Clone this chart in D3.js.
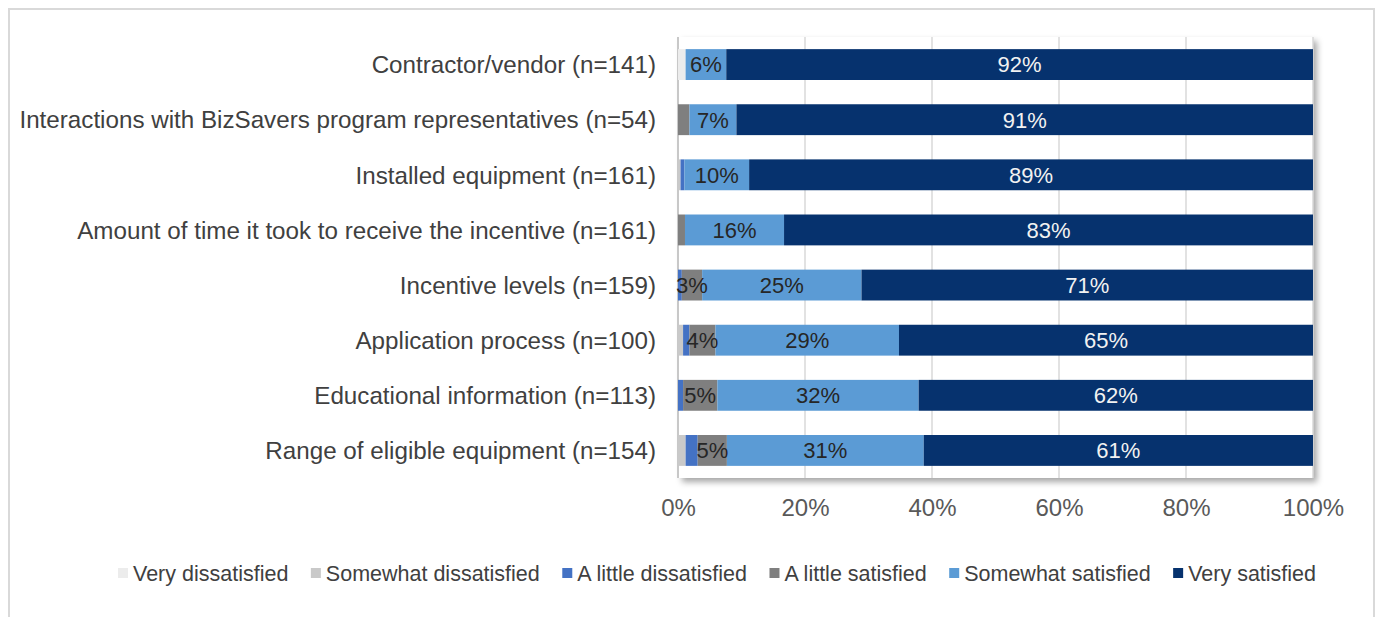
<!DOCTYPE html>
<html>
<head>
<meta charset="utf-8">
<script src="https://cdn.jsdelivr.net/npm/d3@7"></script>
<style>
  body { margin: 0; background: #fff; }
  svg text { font-family: "Liberation Sans", Arial, sans-serif; }
</style>
</head>
<body>
<svg id="chart" width="1380" height="617"></svg>
<script>
var categories = [
    "Contractor/vendor (n=141)",
    "Interactions with BizSavers program representatives (n=54)",
    "Installed equipment (n=161)",
    "Amount of time it took to receive the incentive (n=161)",
    "Incentive levels (n=159)",
    "Application process (n=100)",
    "Educational information (n=113)",
    "Range of eligible equipment (n=154)"
];
var seriesNames = ["Very dissatisfied", "Somewhat dissatisfied", "A little dissatisfied",
    "A little satisfied", "Somewhat satisfied", "Very satisfied"];
// percent of respondents, one value per category
var veryDissatisfied     = [1.2, 0, 0, 0, 0, 0, 0, 0];
var somewhatDissatisfied = [0, 0, 0.4, 0, 0, 0.8, 0, 1.2];
var littleDissatisfied   = [0, 0, 0.6, 0, 0.6, 1.0, 0.8, 1.9];
var littleSatisfied      = [0, 1.8, 0, 1.1, 3.2, 4.1, 5.4, 4.6];
var somewhatSatisfied    = [6.4, 7.4, 10.2, 15.6, 25.1, 28.9, 31.7, 31.0];
var verySatisfied        = [92.4, 90.8, 88.8, 83.3, 71.1, 65.2, 62.1, 61.3];
var xTicks = [0, 20, 40, 60, 80, 100];

var colors = ["#ececec", "#c9c9c9", "#4472c4", "#7f7f7f", "#5b9bd5", "#06326e"];
var labelColors = ["#262626", "#262626", "#ffffff", "#262626", "#262626", "#f2f2f2"];

var svg = d3.select("#chart");

// outer chart border
svg.append("rect")
    .attr("x", 9).attr("y", 9)
    .attr("width", 1365).attr("height", 630)
    .attr("fill", "#fff")
    .attr("stroke", "#d9d9d9")
    .attr("stroke-width", 2);

var defs = svg.append("defs");
defs.append("filter").attr("id", "shadow")
    .attr("x", "-5%").attr("y", "-5%").attr("width", "110%").attr("height", "115%")
    .append("feDropShadow")
    .attr("dx", 4).attr("dy", 4)
    .attr("stdDeviation", 3)
    .attr("flood-color", "#000")
    .attr("flood-opacity", 0.35);

var x = d3.scaleLinear().domain([0, 100]).range([678, 1313]);
var y = d3.scaleBand().domain(categories).range([37, 478])
    .paddingInner(0.44).paddingOuter(0.22);

// plot area
svg.append("rect")
    .attr("x", x(0)).attr("y", 37)
    .attr("width", x(100) - x(0)).attr("height", 441)
    .attr("fill", "#fff")
    .attr("filter", "url(#shadow)");

svg.append("g").selectAll("line")
    .data(xTicks.slice(1))
    .join("line")
    .attr("x1", function(d){ return x(d); })
    .attr("x2", function(d){ return x(d); })
    .attr("y1", 37).attr("y2", 478)
    .attr("stroke", "#d9d9d9")
    .attr("stroke-width", 1.5);

svg.append("line")
    .attr("x1", x(0)).attr("x2", x(0))
    .attr("y1", 37).attr("y2", 478)
    .attr("stroke", "#c8c8c8")
    .attr("stroke-width", 2);

// stack the series
var table = categories.map(function(c, i){
    return {cat: c, s0: veryDissatisfied[i], s1: somewhatDissatisfied[i], s2: littleDissatisfied[i],
        s3: littleSatisfied[i], s4: somewhatSatisfied[i], s5: verySatisfied[i]};
});
var keys = ["s0", "s1", "s2", "s3", "s4", "s5"];
var stacked = d3.stack().keys(keys)(table);

var layers = svg.append("g").selectAll("g")
    .data(stacked)
    .join("g")
    .attr("fill", function(d, i){ return colors[i]; });

layers.selectAll("rect")
    .data(function(d){ return d; })
    .join("rect")
    .attr("x", function(d){ return x(d[0]); })
    .attr("y", function(d){ return y(d.data.cat); })
    .attr("width", function(d){ return x(d[1]) - x(d[0]); })
    .attr("height", y.bandwidth());

// data labels
stacked.forEach(function(layer, i){
    svg.append("g").selectAll("text")
        .data(layer.filter(function(d){ return d[1] - d[0] >= 2.5; }))
        .join("text")
        .attr("x", function(d){ return (x(d[0]) + x(d[1])) / 2; })
        .attr("y", function(d){ return y(d.data.cat) + y.bandwidth() / 2; })
        .attr("dy", "0.36em")
        .attr("text-anchor", "middle")
        .attr("fill", labelColors[i])
        .style("font-size", "22px")
        .text(function(d){ return Math.round(d[1] - d[0]) + "%"; });
});

// category labels
svg.append("g").selectAll("text")
    .data(categories)
    .join("text")
    .attr("x", 656)
    .attr("y", function(d){ return y(d) + y.bandwidth() / 2; })
    .attr("dy", "0.36em")
    .attr("text-anchor", "end")
    .attr("fill", "#404040")
    .style("font-size", "24.2px")
    .text(function(d){ return d; });

// x axis
var xAxis = svg.append("g")
    .attr("transform", "translate(0,478)")
    .call(d3.axisBottom(x).tickValues(xTicks).tickSize(0).tickPadding(21)
        .tickFormat(function(d){ return d + "%"; }));
xAxis.select(".domain").remove();
xAxis.selectAll("text")
    .attr("fill", "#595959")
    .style("font-size", "24px")
    .style("font-family", "'Liberation Sans', Arial, sans-serif");

// legend
var legend = svg.append("g").attr("transform", "translate(0,573)");
var lx = 118;
seriesNames.forEach(function(name, i){
    var item = legend.append("g").attr("transform", "translate(" + lx + ",0)");
    item.append("rect")
        .attr("x", 0).attr("y", -5)
        .attr("width", 10).attr("height", 10)
        .attr("fill", colors[i]);
    var t = item.append("text")
        .attr("x", 15).attr("dy", "0.36em")
        .attr("fill", "#404040")
        .style("font-size", "21.5px")
        .text(name);
    lx += 15 + t.node().getComputedTextLength() + 22.5;
});
</script>
</body>
</html>
